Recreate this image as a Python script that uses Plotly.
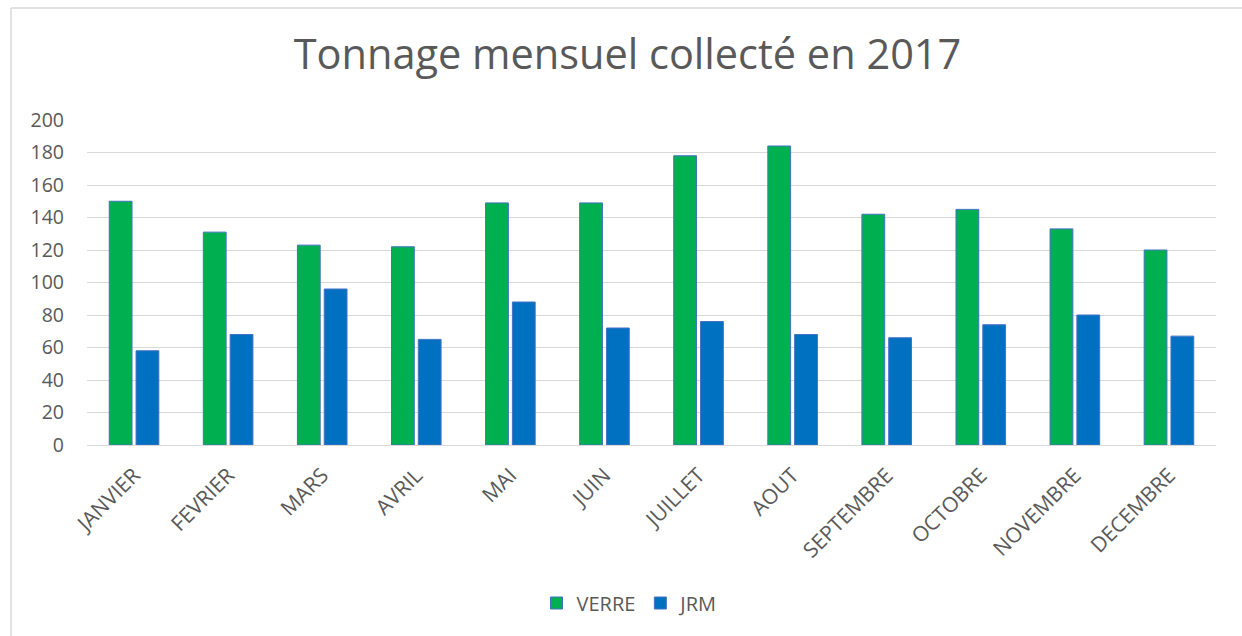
import plotly.graph_objects as go

months = ["JANVIER", "FEVRIER", "MARS", "AVRIL", "MAI", "JUIN", "JUILLET",
          "AOUT", "SEPTEMBRE", "OCTOBRE", "NOVEMBRE", "DECEMBRE"]
verre = [150, 131, 123, 122, 149, 149, 178, 184, 142, 145, 133, 120]
jrm = [58, 68, 96, 65, 88, 72, 76, 68, 66, 74, 80, 67]
y_ticks = [0, 20, 40, 60, 80, 100, 120, 140, 160, 180, 200]

W, H = 1242, 636
# reference pixel coordinates of plot area
PX0, PX1, PY0, PY1 = 87, 1216, 120, 445
L, R, T, B = PX0, W - PX1, PY0, H - PY1
pw, ph = PX1 - PX0, PY1 - PY0

font = "Open Sans, Lato, sans-serif"
grey = "#595959"

fig = go.Figure()
fig.add_trace(go.Bar(name="VERRE", x=months, y=verre,
                     marker=dict(color="#00B050", line=dict(color="#4472C4", width=1))))
fig.add_trace(go.Bar(name="JRM", x=months, y=jrm,
                     marker=dict(color="#0070C0", line=dict(color="#4472C4", width=1))))

fig.update_layout(
    width=W, height=H,
    margin=dict(l=L, r=R, t=T, b=B, autoexpand=False),
    paper_bgcolor="white", plot_bgcolor="white",
    barmode="group", bargap=0.43, bargroupgap=0.15,
    font=dict(family=font, color=grey),
    title=dict(text="Tonnage mensuel collecté en 2017",
               font=dict(family=font, size=41.5, color=grey),
               x=627.5 / W, xanchor="center", xref="container",
               y=1 - 54 / H, yanchor="middle", yref="container"),
    showlegend=True,
    legend=dict(orientation="h", x=(630 - PX0) / pw, xanchor="center",
                y=(PY1 - 603) / ph, yanchor="middle",
                font=dict(family=font, size=20, color=grey),
                itemwidth=30, traceorder="normal"),
    xaxis=dict(tickangle=-45, tickfont=dict(family=font, size=21, color=grey),
               showgrid=False, showline=False, ticks="", fixedrange=True,
               ticklabelstandoff=13),
    yaxis=dict(range=[0, 200], tickvals=y_ticks,
               tickfont=dict(family=font, size=19.5, color=grey),
               showgrid=True, gridcolor="#D9D9D9", gridwidth=1,
               zeroline=True, zerolinecolor="#D9D9D9", zerolinewidth=1,
               showline=False, ticks="", ticklabelstandoff=22),
)

# chart border: only top and left edges are visible in the reference
bx0 = (11 - PX0) / pw
bx1 = (W + 30 - PX0) / pw
by_top = (PY1 - 8) / ph
by_bot = (PY1 - (H + 30)) / ph
for x0, x1, y0, y1 in [(bx0, bx1, by_top, by_top), (bx0, bx0, by_bot, by_top)]:
    fig.add_shape(type="line", xref="paper", yref="paper",
                  x0=x0, x1=x1, y0=y0, y1=y1,
                  line=dict(color="#D9D9D9", width=1.5), layer="below")

fig.write_html(
    "out.html",
    config={"displayModeBar": False},
    post_script="document.body.style.margin='0';document.body.style.overflow='hidden';",
)
